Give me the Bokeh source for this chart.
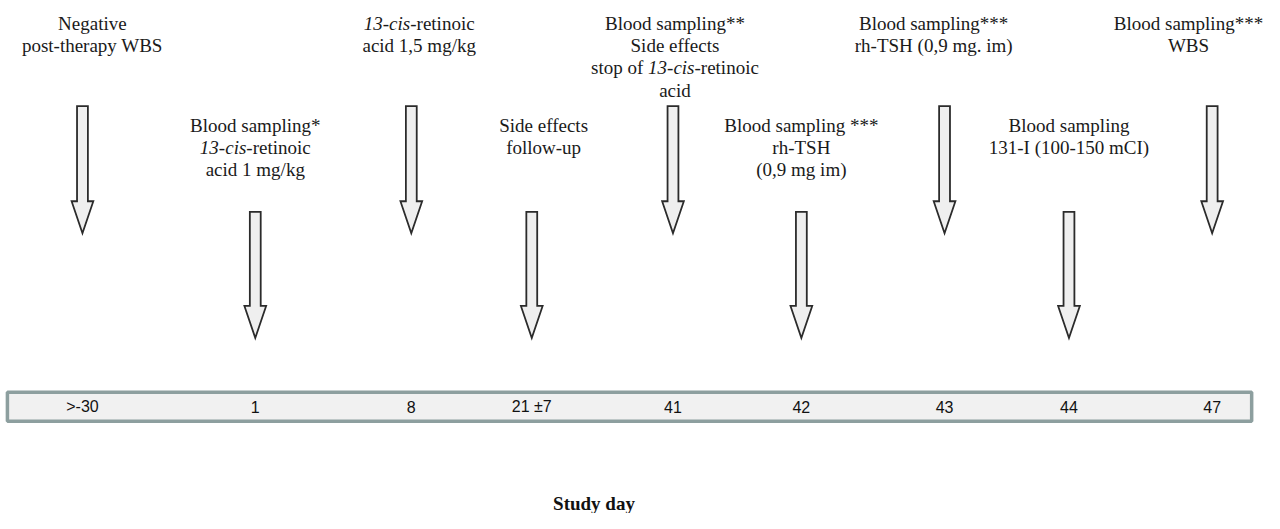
import re
from bokeh.plotting import figure
from bokeh.models import Range1d
from bokeh.core.properties import value
from bokeh.embed import file_html
from bokeh.resources import INLINE

# ---------------- data ----------------
study_days = [">-30", "1", "8", "21 \u00b17", "41", "42", "43", "44", "47"]

event_labels = [
    ["Negative", "post-therapy WBS"],
    ["Blood sampling*", "<i>13-cis</i>-retinoic", "acid 1 mg/kg"],
    ["<i>13-cis</i>-retinoic", "acid 1,5 mg/kg"],
    ["Side effects", "follow-up"],
    ["Blood sampling**", "Side effects", "stop of <i>13-cis</i>-retinoic", "acid"],
    ["Blood sampling ***", "rh-TSH", "(0,9 mg im)"],
    ["Blood sampling***", "rh-TSH (0,9 mg. im)"],
    ["Blood sampling", "131-I (100-150 mCI)"],
    ["Blood sampling***", "WBS"],
]

axis_title = "Study day"

# ---------------- layout (reference pixel frame 1280 x 529) ----------------
FIG_W, FIG_H = 1264, 513
REF_W, REF_H = 1280, 529
arrow_x = [83, 258, 416, 538, 681, 811, 956, 1082, 1227]
label_x = [93, 258, 424, 550, 683, 811, 945, 1082, 1203]
# (shaft top, head start, tip) for upper / lower arrows
arrow_levels = [(109, 207, 240), (218, 315, 348)]
label_first_line = [24, 129]
line_gap = 22.8
shaft_hw, head_hw = 5.5, 11.0
box_left, box_right, box_top, box_bottom = 7, 1267, 404, 434
number_y = 419

FONT = "Liberation Serif"
FS = 19

# Times / Liberation Serif advance widths (1/1000 em)
W = dict(zip("abcdefghijklmnopqrstuvwxyz",
             [444, 500, 444, 500, 444, 333, 500, 500, 278, 278, 500, 278, 778,
              500, 500, 500, 500, 333, 389, 278, 500, 500, 722, 500, 500, 444]))
W.update(dict(zip("ABCDEFGHIJKLMNOPQRSTUVWXYZ",
                  [722, 667, 667, 722, 611, 556, 722, 722, 333, 389, 722, 611, 889,
                   722, 722, 556, 722, 667, 556, 611, 722, 722, 944, 722, 722, 611])))
W.update({c: 500 for c in "0123456789"})
W.update({" ": 250, "-": 333, "*": 500, ",": 250, ".": 250, "(": 333, ")": 333, "/": 278})

PX_TO_DATA = REF_W / FIG_W


def text_width(s):
    return sum(W.get(c, 500) for c in s) / 1000.0 * FS * PX_TO_DATA


def segments(line):
    out = []
    for part in re.split(r"(<i>.*?</i>)", line):
        if not part:
            continue
        if part.startswith("<i>"):
            out.append((part[3:-4], True))
        else:
            out.append((part, False))
    return out


p = figure(width=FIG_W, height=FIG_H,
           x_range=Range1d(0, REF_W), y_range=Range1d(REF_H, 0),
           x_axis_type=None, y_axis_type=None,
           output_backend="svg", toolbar_location=None, min_border=0,
           background_fill_color="white", border_fill_color="white")
p.grid.visible = False
p.outline_line_color = None

# arrows
xs, ys = [], []
for i, x in enumerate(arrow_x):
    top, head, tip = arrow_levels[i % 2]
    xs.append([x - shaft_hw, x + shaft_hw, x + shaft_hw, x + head_hw, x,
               x - head_hw, x - shaft_hw])
    ys.append([top, top, head, head, tip, head, head])
p.patches(xs, ys, fill_color="#efefef", line_color="#2b2b2b", line_width=1.8,
          line_join="miter")

# event labels
plain = dict(x=[], y=[], text=[])
seg_reg = dict(x=[], y=[], text=[])
seg_ital = dict(x=[], y=[], text=[])
for i, lines in enumerate(event_labels):
    y0 = label_first_line[i % 2]
    cx = label_x[i]
    for k, line in enumerate(lines):
        y = y0 + k * line_gap
        segs = segments(line)
        if len(segs) == 1 and not segs[0][1]:
            plain["x"].append(cx)
            plain["y"].append(y)
            plain["text"].append(line)
            continue
        total = sum(text_width(t) for t, _ in segs)
        pos = cx - total / 2
        for t, it in segs:
            d = seg_ital if it else seg_reg
            d["x"].append(pos)
            d["y"].append(y)
            d["text"].append(t)
            pos += text_width(t)

common = dict(text_font=value(FONT), text_font_size=f"{FS}px",
              text_color="#1a1a1a", text_baseline="middle")
p.text(x=plain["x"], y=plain["y"], text=plain["text"], text_align="center", **common)
p.text(x=seg_reg["x"], y=seg_reg["y"], text=seg_reg["text"], text_align="left", **common)
p.text(x=seg_ital["x"], y=seg_ital["y"], text=seg_ital["text"], text_align="left",
       text_font_style="italic", **common)

# study-day box
p.quad(left=[box_left], right=[box_right], top=[box_top], bottom=[box_bottom],
       fill_color="#f1f1f1", line_color="#8d9f9f", line_width=3.5)
p.text(x=arrow_x, y=[number_y] * len(study_days), text=study_days,
       text_align="center", text_baseline="middle",
       text_font=value("Liberation Sans"), text_font_size="16px", text_color="#111111")

# axis title
p.text(x=[601], y=[519], text=[axis_title], text_align="center",
       text_baseline="middle", text_font=value(FONT), text_font_size="19px",
       text_font_style="bold", text_color="#111111")

open("out.html", "w").write(file_html(p, INLINE))
